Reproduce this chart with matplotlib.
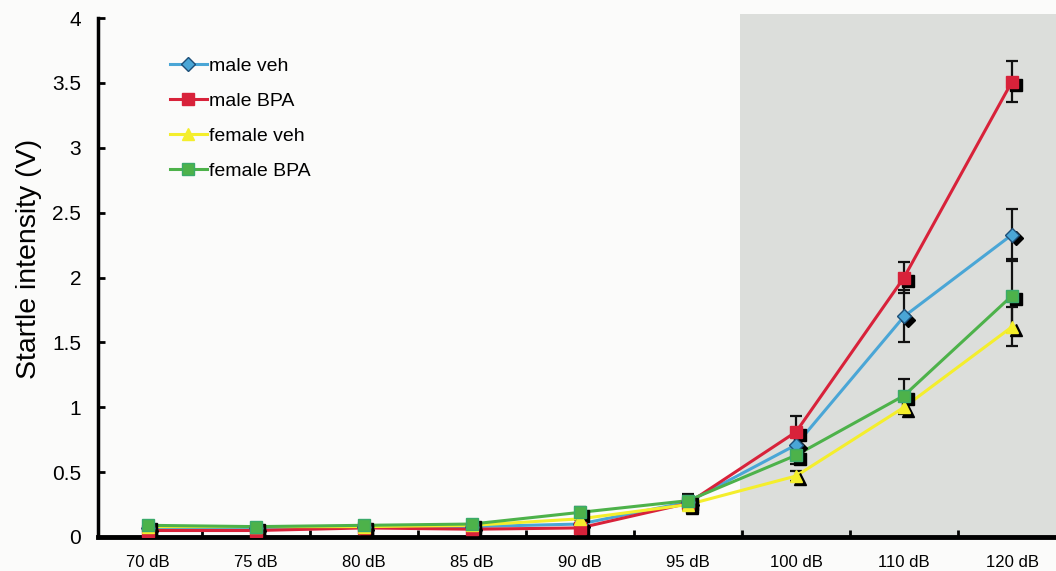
import numpy as np
import matplotlib
matplotlib.use("Agg")
import matplotlib.pyplot as plt
import matplotlib.transforms as mtransforms
from matplotlib.patches import Rectangle

plt.rcParams['font.family'] = ['Liberation Sans', 'DejaVu Sans']

# categories and series (startle intensity in V)
levels = ["70 dB", "75 dB", "80 dB", "85 dB", "90 dB", "95 dB", "100 dB", "110 dB", "120 dB"]

male_veh = [0.07, 0.07, 0.08, 0.08, 0.10, 0.27, 0.71, 1.70, 2.33]
male_veh_err = [0.01, 0.01, 0.01, 0.02, 0.03, 0.05, 0.08, 0.20, 0.20]

male_bpa = [0.05, 0.05, 0.07, 0.06, 0.07, 0.26, 0.81, 2.00, 3.51]
male_bpa_err = [0.01, 0.01, 0.01, 0.02, 0.03, 0.05, 0.12, 0.12, 0.16]

female_veh = [0.08, 0.08, 0.08, 0.09, 0.14, 0.25, 0.47, 1.00, 1.62]
female_veh_err = [0.01, 0.01, 0.01, 0.02, 0.03, 0.04, 0.04, 0.05, 0.15]

female_bpa = [0.09, 0.08, 0.09, 0.10, 0.19, 0.28, 0.63, 1.09, 1.86]
female_bpa_err = [0.01, 0.01, 0.01, 0.02, 0.04, 0.05, 0.07, 0.13, 0.28]

series = [
    ("male veh", male_veh, male_veh_err, "#4aa6d6", "D", "#1d4f78", 7),
    ("male BPA", male_bpa, male_bpa_err, "#d8223a", "s", "#d8223a", 8),
    ("female veh", female_veh, female_veh_err, "#f4ee2c", "^", "#f4ee2c", 8),
    ("female BPA", female_bpa, female_bpa_err, "#4db24a", "s", "#3aaa6a", 8),
]

fig = plt.figure(figsize=(10.56, 5.71), dpi=100)
fig.patch.set_facecolor("#fbfbfa")
ax = fig.add_axes([98 / 1056, 1 - 537 / 571, 1 - 98 / 1056, (537 - 18) / 571])
ax.set_facecolor("none")

x = np.arange(len(levels))
ax.set_xlim(-0.463, 8.407)
ax.set_ylim(0, 4)

# shaded high-intensity region
ax.add_patch(Rectangle((5.48, 0), 3.0, 4.03, transform=ax.transData,
                       facecolor="#dcdedb", edgecolor="none", zorder=0, clip_on=False))

# black drop shadow under the markers, shifted right/down
shadow_tr = ax.transData + mtransforms.ScaledTranslation(2.5 / 72, -2.5 / 72, fig.dpi_scale_trans)

for name, vals, err, col, mk, mec, ms in series:
    ax.errorbar(x, vals, yerr=err, fmt="none", ecolor="#111111", elinewidth=1.6,
                capsize=4, capthick=1.6, zorder=2)
    ax.plot(x, vals, color=col, lw=2.2, zorder=3)
    ax.plot(x, vals, marker=mk, ms=ms, mfc="k", mec="k", linestyle="none",
            transform=shadow_tr, zorder=3.5)
    ax.plot(x, vals, marker=mk, ms=ms, mfc=col, mec=mec, mew=1,
            linestyle="none", zorder=4)

# legend entries
handles = [plt.Line2D([], [], color=col, lw=2.2, marker=mk, ms=ms, mfc=col, mec=mec, mew=1)
           for name, vals, err, col, mk, mec, ms in series]
ax.legend(handles, [s[0] for s in series], loc="upper left", bbox_to_anchor=(0.067, 0.94),
          frameon=False, fontsize=14, handlelength=1.9, handletextpad=0.1,
          labelspacing=0.9, borderaxespad=0)

# axes styling
for side in ("top", "right"):
    ax.spines[side].set_visible(False)
ax.spines["left"].set_linewidth(2.5)
ax.spines["bottom"].set_linewidth(3.5)

ax.set_yticks(np.arange(0, 4.01, 0.5))
ax.set_yticklabels(["0", "0.5", "1", "1.5", "2", "2.5", "3", "3.5", "4"])
ax.tick_params(axis="y", direction="in", length=5, width=2, labelsize=15, pad=12)

ax.set_xticks(x)
ax.set_xticklabels(levels)
ax.set_xticks(np.arange(0.5, 8, 1), minor=True)
ax.tick_params(axis="x", which="major", length=0, labelsize=12, pad=13)
ax.tick_params(axis="x", which="minor", direction="in", length=5, width=2)

ax.set_ylabel("Startle intensity (V)", fontsize=20.5)
ax.yaxis.set_label_coords(-0.058, 0.535)

fig.savefig("out.png", dpi=100, facecolor=fig.get_facecolor())
